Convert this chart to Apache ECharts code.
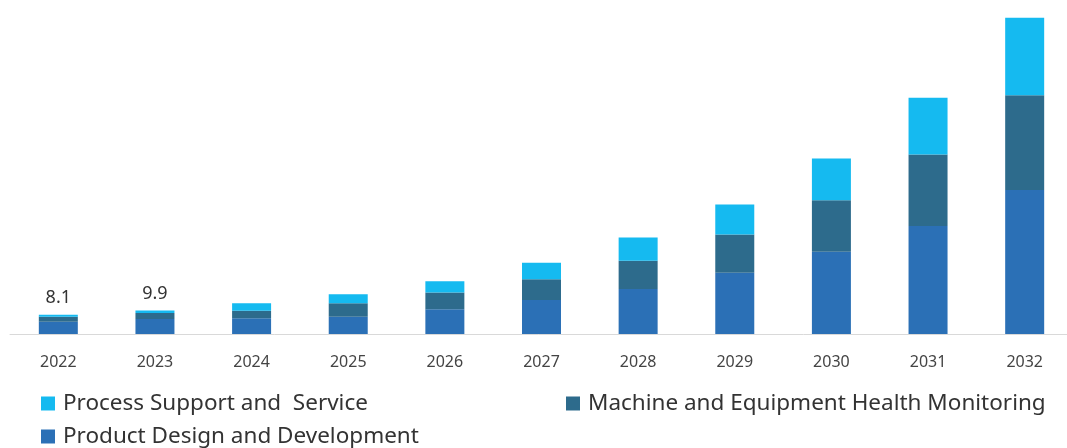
<!DOCTYPE html>
<html>
<head>
<meta charset="utf-8">
<script src="https://cdn.jsdelivr.net/npm/echarts@6/dist/echarts.min.js"></script>
<style>
html,body{margin:0;padding:0;background:#fff;}
#c{width:1067px;height:448px;}
</style>
</head>
<body>
<div id="c"></div>
<script>
const years = ['2022','2023','2024','2025','2026','2027','2028','2029','2030','2031','2032'];
const productDesign = [5.1, 6.3, 6.6, 7.3, 10.4, 14.3, 18.9, 25.7, 34.6, 45.4, 60.5];
const machineHealth = [2.1, 2.5, 3.2, 5.6, 7.1, 8.7, 11.9, 16.1, 21.6, 30.1, 39.9];
const processSupport = [0.9, 1.1, 3.1, 3.8, 4.7, 7.0, 9.8, 12.6, 17.6, 23.8, 32.6];
const totalLabels = ['8.1', '9.9', '', '', '', '', '', '', '', '', ''];

const names = ['Process Support and  Service', 'Machine and Equipment Health Monitoring', 'Product Design and Development'];
const colors = { p: '#15baf0', m: '#2d6b8c', d: '#2b70b6' };

const chart = echarts.init(document.getElementById('c'), null, { renderer: 'canvas' });
const legendText = { fontFamily: 'Noto Sans', fontSize: 22.5, color: '#333', padding: [0, 0, 0, 3] };
const legendBase = { itemWidth: 14, itemHeight: 14, icon: 'rect', padding: 0, textStyle: legendText };
chart.setOption({
  animation: false,
  backgroundColor: '#fff',
  grid: { left: 10, width: 1063, top: 1, bottom: 114, containLabel: false, outerBoundsMode: 'none' },
  legend: [
    Object.assign({ data: [names[0]], left: 41, top: 392 }, legendBase),
    Object.assign({ data: [names[1]], left: 566, top: 392 }, legendBase),
    Object.assign({ data: [names[2]], left: 41, top: 425 }, legendBase)
  ],
  xAxis: {
    type: 'category',
    data: years,
    axisLine: { show: true, lineStyle: { color: '#d9d9d9', width: 1 } },
    axisTick: { show: false },
    axisLabel: { margin: 20, fontFamily: 'Noto Sans', fontSize: 16, color: '#444' }
  },
  yAxis: {
    type: 'value', min: 0, max: 140, show: false, splitLine: { show: false }
  },
  series: [
    { name: names[2], type: 'bar', stack: 't', data: productDesign, barWidth: 39,
      itemStyle: { color: colors.d } },
    { name: names[1], type: 'bar', stack: 't', data: machineHealth, barWidth: 39,
      itemStyle: { color: colors.m } },
    { name: names[0], type: 'bar', stack: 't', data: processSupport, barWidth: 39,
      itemStyle: { color: colors.p },
      label: { show: true, position: 'top', distance: 8,
        fontFamily: 'Noto Sans', fontSize: 18, color: '#333',
        formatter: p => totalLabels[p.dataIndex] } }
  ]
});
</script>
</body>
</html>
